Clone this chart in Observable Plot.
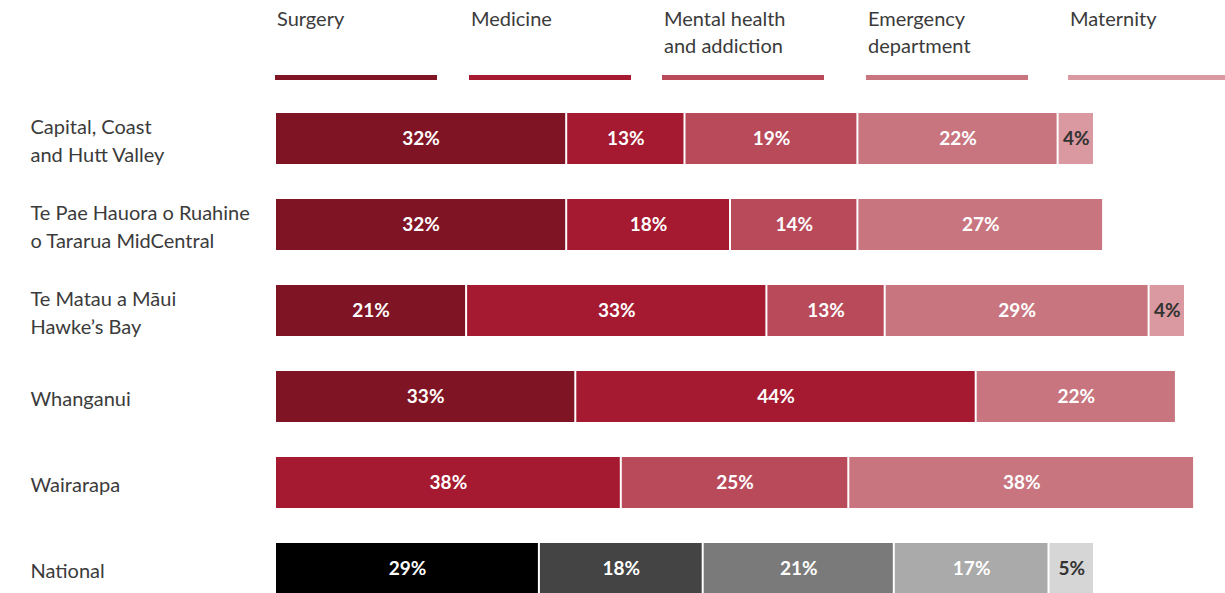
<!DOCTYPE html>
<html><head><meta charset="utf-8">
<script src="https://cdn.jsdelivr.net/npm/d3@7"></script>
<script src="https://cdn.jsdelivr.net/npm/@observablehq/plot@0.6"></script>
<style>
html,body{margin:0;padding:0;background:#fff;overflow:hidden;width:1225px;height:593px;}
body{font-family:Lato,"Open Sans",sans-serif;color:#3b3b3b;}
#legend{position:relative;height:95px;width:1225px;}
.item{position:absolute;top:5px;}
.item .lab{font-size:20px;line-height:27px;height:54px;padding-left:2px;white-space:pre;}
.item .sw{position:absolute;top:70px;left:0;height:5px;width:162px;}
#chart svg{display:block;}
</style></head><body>
<div id="legend"></div>
<div id="chart"></div>
<script>
// ---- data ----
const categories = ["Surgery", "Medicine", "Mental health and addiction", "Emergency department", "Maternity"];
const legendLabels = ["Surgery", "Medicine", "Mental health\nand addiction", "Emergency\ndepartment", "Maternity"];
const regions = [
  "Capital, Coast\nand Hutt Valley",
  "Te Pae Hauora o Ruahine\no Tararua MidCentral",
  "Te Matau a Māui\nHawke’s Bay",
  "Whanganui",
  "Wairarapa",
  "National"
];
const surgery      = [32, 32, 21, 33, null, 29];
const medicine     = [13, 18, 33, 44, 38, 18];
const mentalHealth = [19, 14, 13, null, 25, 21];
const emergency    = [22, 27, 29, 22, 38, 17];
const maternity    = [4, null, 4, null, null, 5];
const regionColors   = ["#7f1424", "#a51a30", "#b84a5a", "#c8757f", "#da98a0"];
const nationalColors = ["#000000", "#444444", "#7a7a7a", "#aaaaaa", "#d6d6d6"];

// ---- layout ----
const legendX = [275, 469, 662, 866, 1068];
const legendW = [162, 162, 162, 162, 160];

const series = [surgery, medicine, mentalHealth, emergency, maternity];
const table = [];
regions.forEach((r, i) => {
  categories.forEach((c, j) => {
    const v = series[j][i];
    if (v != null) table.push({region: r, category: c, value: v, key: (r === "National" ? "National " : "") + c});
  });
});

// legend
const leg = document.getElementById("legend");
categories.forEach((c, j) => {
  const it = document.createElement("div");
  it.className = "item";
  it.style.left = legendX[j] + "px";
  const lab = document.createElement("div");
  lab.className = "lab";
  lab.textContent = legendLabels[j];
  const sw = document.createElement("div");
  sw.className = "sw";
  sw.style.background = regionColors[j];
  sw.style.width = legendW[j] + "px";
  it.appendChild(lab); it.appendChild(sw);
  leg.appendChild(it);
});

const labelOpts = {y: "region", x: "value", text: d => d.value + "%", fontWeight: "bold", fontSize: 19};
const chart = Plot.plot({
  width: 1225,
  height: 511,
  marginLeft: 275,
  marginRight: 40,
  marginTop: 0,
  marginBottom: 0,
  style: {fontFamily: "Lato, 'Open Sans', sans-serif", background: "white"},
  x: {domain: [0, 100], axis: null},
  y: {domain: regions, range: [7, 509], paddingInner: 0.41, paddingOuter: 0.1, axis: null},
  color: {type: "ordinal", domain: categories.concat(categories.map(c => "National " + c)), range: regionColors.concat(nationalColors)},
  marks: [
    Plot.barX(table, Plot.stackX({y: "region", x: "value", fill: "key", insetLeft: 1, insetRight: 1})),
    Plot.text(table, Plot.filter(d => d.category !== "Maternity", Plot.stackX({...labelOpts, fill: "white"}))),
    Plot.text(table, Plot.filter(d => d.category === "Maternity", Plot.stackX({...labelOpts, fill: "#333333"}))),
    Plot.text(regions, {y: d => d, text: d => d, frameAnchor: "left", textAnchor: "start", dx: -245, lineHeight: 1.4, fill: "#3b3b3b", fontSize: 20})
  ]
});
document.getElementById("chart").appendChild(chart);
</script>
</body></html>
